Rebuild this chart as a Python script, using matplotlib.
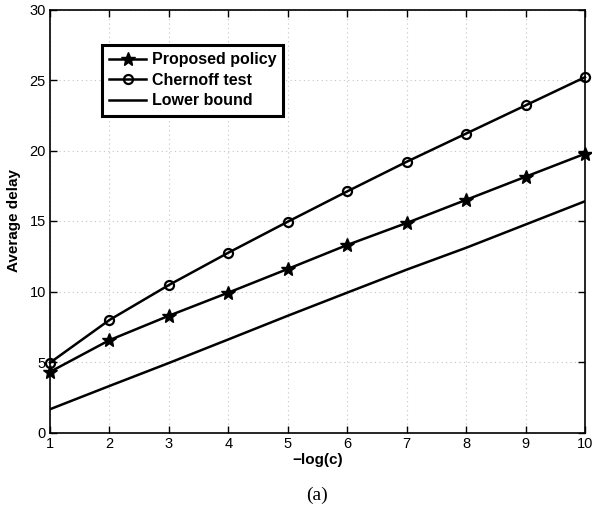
import matplotlib
matplotlib.use("Agg")
import matplotlib.pyplot as plt

x = [1, 2, 3, 4, 5, 6, 7, 8, 9, 10]
proposed = [4.3, 6.55, 8.28, 9.92, 11.6, 13.3, 14.86, 16.5, 18.14, 19.77]
chernoff = [4.95, 7.98, 10.46, 12.75, 14.95, 17.1, 19.2, 21.2, 23.2, 25.2]
lower = [1.65, 3.3, 4.93, 6.6, 8.28, 9.92, 11.55, 13.1, 14.75, 16.4]

xticks = [1, 2, 3, 4, 5, 6, 7, 8, 9, 10]
yticks = [0, 5, 10, 15, 20, 25, 30]

plt.rcParams['font.family'] = ['Liberation Sans', 'DejaVu Sans']

fig = plt.figure(figsize=(5.92, 5.12), dpi=100)
ax = fig.add_axes([50/592, 1-432.5/512, 535/592, 423/512])

lw = 1.8
ax.plot(x, proposed, color='black', lw=lw, marker='*', markersize=10,
        markerfacecolor='black', markeredgecolor='black', label='Proposed policy',
        clip_on=False, zorder=3)
ax.plot(x, chernoff, color='black', lw=lw, marker='o', markersize=6.5,
        markerfacecolor='none', markeredgecolor='black', markeredgewidth=1.6,
        label='Chernoff test', clip_on=False, zorder=3)
ax.plot(x, lower, color='black', lw=lw, label='Lower bound', zorder=3)

ax.set_xlim(1, 10)
ax.set_ylim(0, 30)
ax.set_xticks(xticks)
ax.set_yticks(yticks)
ax.tick_params(direction='in', top=True, right=True, length=5, width=1,
               labelsize=10.5, pad=3)
ax.grid(True, color='#c4c4c4', linestyle=(0, (1, 3)), linewidth=0.8)
for s in ax.spines.values():
    s.set_linewidth(1.2)

ax.set_xlabel('\u2212log(c)', fontsize=11, fontweight='bold', labelpad=2)
ax.set_ylabel('Average delay', fontsize=11, fontweight='bold', labelpad=6)

leg = ax.legend(loc='upper left', bbox_to_anchor=((102-50)/535, 1-(45-9.5)/423),
                frameon=True, fancybox=False, edgecolor='black', framealpha=1,
                prop={'weight': 'bold', 'size': 11.5}, handlelength=2.3,
                handletextpad=0.35, borderpad=0.45, labelspacing=0.35,
                borderaxespad=0)
leg.get_frame().set_linewidth(2.2)
leg.set_zorder(5)

fig.text(317/592, 1-495/512, '(a)', ha='center', va='center',
         fontsize=14, family='Liberation Serif')

fig.savefig('out.png', dpi=100)
